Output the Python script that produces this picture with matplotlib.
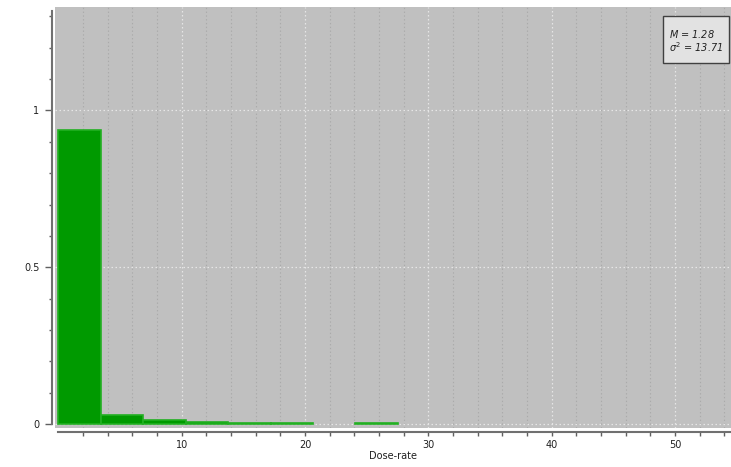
import numpy as np
import matplotlib
matplotlib.use('Agg')
import matplotlib.pyplot as plt
from matplotlib.ticker import FixedLocator
from matplotlib.patches import Rectangle

# histogram data
bin_starts = [0, 3.44, 6.88, 10.32, 13.76, 17.2, 20.64, 24.08]
bin_width = 3.44
freq = [0.937, 0.029, 0.013, 0.008, 0.004, 0.004, 0.0, 0.004]
x_major = [10, 20, 30, 40, 50]
x_minor = list(range(2, 56, 2))
y_major = [0, 0.5, 1]
y_minor = [0.1, 0.2, 0.3, 0.4, 0.6, 0.7, 0.8, 0.9, 1.1, 1.2, 1.3]
y_labels = ['0', '0.5', '1']
stat_lines = ['$M$ = 1.28', '$\\sigma^2$ = 13.71']

fig = plt.figure(figsize=(7.31, 4.67), dpi=100)
ax = fig.add_axes([55 / 731, 39 / 467, 676 / 731, 421.3 / 467])
ax.set_facecolor('#c0c0c0')

# empty bins are not drawn at all
xs = [b for b, f in zip(bin_starts, freq) if f > 0]
hs = [f for f in freq if f > 0]
ax.bar(xs, hs, width=bin_width, align='edge',
       color='#009a00', edgecolor='#22b022', linewidth=1.2, zorder=3)

ax.set_xlim(-0.28, 54.55)
ax.set_ylim(-0.0118, 1.33)

ax.xaxis.set_major_locator(FixedLocator(x_major))
ax.xaxis.set_minor_locator(FixedLocator(x_minor))
ax.yaxis.set_major_locator(FixedLocator(y_major))
ax.set_yticklabels(y_labels)
ax.yaxis.set_minor_locator(FixedLocator(y_minor))

ax.grid(which='minor', axis='x', color='#aaaaaa', linestyle=(0, (1.2, 2.2)), linewidth=0.8)
ax.grid(which='major', axis='both', color='#e6e6e6', linestyle=(0, (1.2, 2)), linewidth=0.9)
ax.set_axisbelow(True)

for s in ['top', 'right']:
    ax.spines[s].set_visible(False)
ax.spines['left'].set_position(('outward', 2.2))
ax.spines['bottom'].set_position(('outward', 2.6))
ax.spines['left'].set_bounds(0, 1.316)
ax.spines['bottom'].set_bounds(0, 54.55)
for s in ['left', 'bottom']:
    ax.spines[s].set_color('#707070')
    ax.spines[s].set_linewidth(1.5)

ax.tick_params(axis='y', which='major', length=5, width=1, color='#606060',
               labelsize=7, pad=4, labelcolor='#202020')
ax.tick_params(axis='y', which='minor', length=2.5, width=1, color='#606060')
ax.tick_params(axis='x', which='both', length=3, width=1, color='#606060',
               labelsize=7, pad=3, labelcolor='#202020')

ax.set_xlabel('Dose-rate', fontsize=7, labelpad=1, color='#202020')

# stats box
ax.add_patch(Rectangle((0.899, 0.866), 0.098, 0.112, transform=ax.transAxes,
                       facecolor='#e2e2e2', edgecolor='#404040', linewidth=1, zorder=5))
ax.text(0.908, 0.935, stat_lines[0], transform=ax.transAxes, fontsize=7,
        style='italic', va='center', ha='left', color='#222222', zorder=6)
ax.text(0.908, 0.905, stat_lines[1], transform=ax.transAxes, fontsize=7,
        style='italic', va='center', ha='left', color='#222222', zorder=6)

fig.savefig('out.png', dpi=100)
